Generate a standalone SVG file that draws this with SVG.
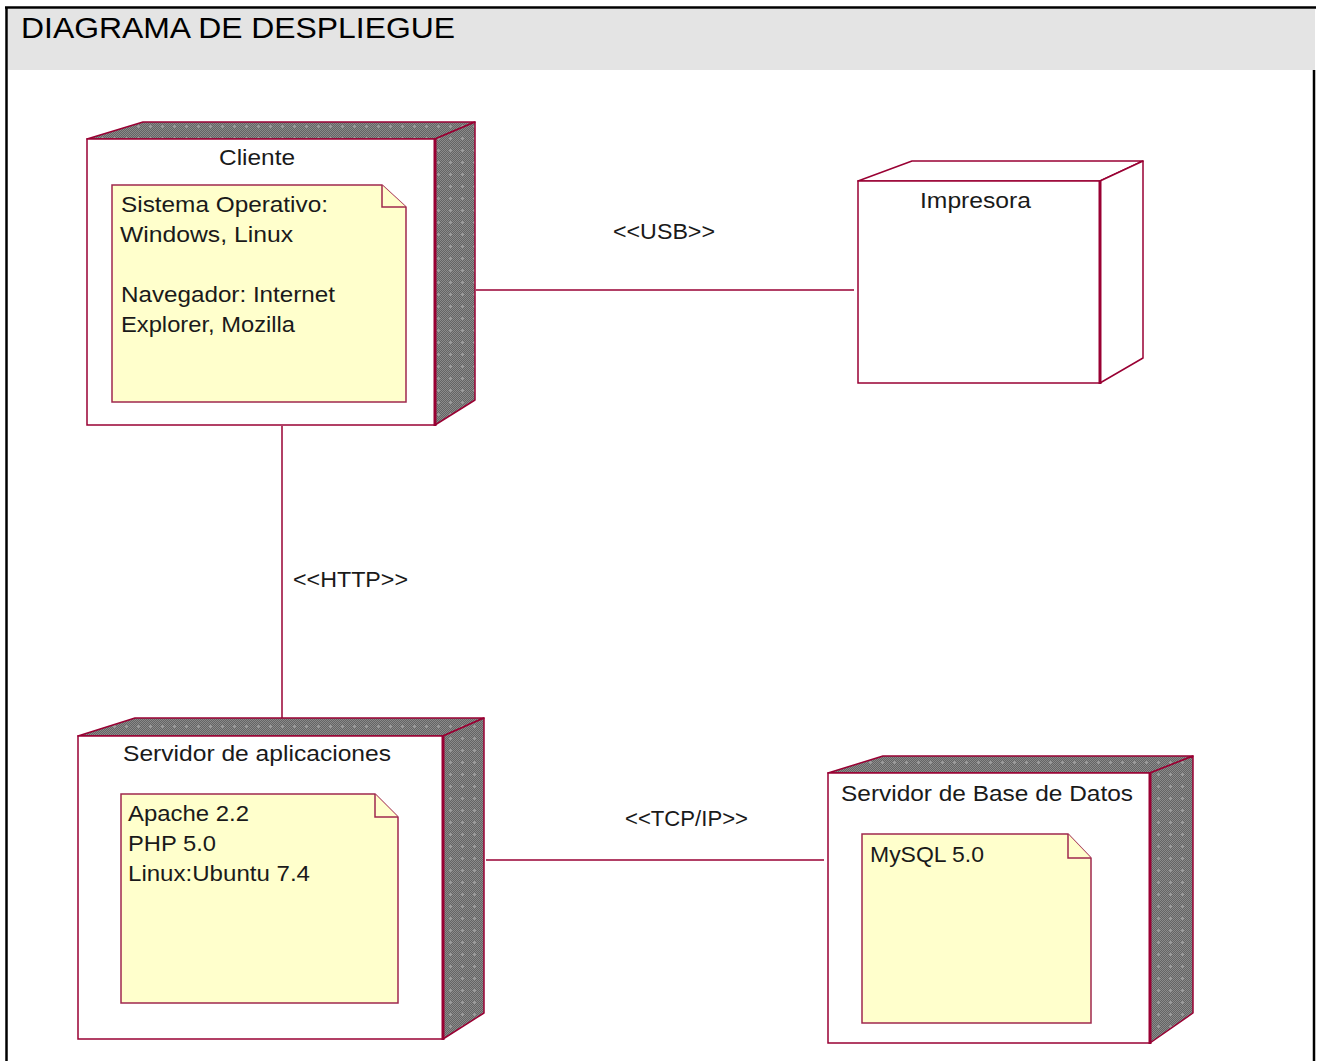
<svg xmlns="http://www.w3.org/2000/svg" width="1320" height="1061" viewBox="0 0 1320 1061">
  <style>
    .frame { stroke: #000; stroke-width: 2.5; fill: none; }
    .front { fill: #ffffff; stroke: #990033; stroke-width: 1.5; }
    .thick { stroke: #990033; stroke-width: 3; }
    .shade { fill: url(#dots); stroke: #990033; stroke-width: 1.5; stroke-linejoin: round; }
    .plain { fill: #ffffff; stroke: #990033; stroke-width: 1.5; stroke-linejoin: round; }
    .note { fill: #ffffcc; stroke: #a0294d; stroke-width: 1.5; }
    .conn { stroke: #990033; stroke-width: 1.5; fill: none; }
    text { font-family: "Liberation Sans", Arial, sans-serif; fill: #1a1a1a; }
    .lbl { font-size: 22px; }
    .title { font-size: 29px; fill: #000; }
  </style>
  <defs>
    <!-- fine 1px checker used inside the stippled shading -->
    <pattern id="chk" width="2" height="2" patternUnits="userSpaceOnUse">
      <rect width="2" height="2" fill="#646464"/>
      <rect width="1" height="1" fill="#8a8a8a"/>
      <rect x="1" y="1" width="1" height="1" fill="#8a8a8a"/>
    </pattern>
    <!-- stippled shading for the dark faces of shaded nodes -->
    <pattern id="dots" width="12" height="12" patternUnits="userSpaceOnUse">
      <rect width="12" height="12" fill="url(#chk)"/>
      <rect x="5" y="6" width="3" height="1" fill="#9c9c9c"/>
      <rect x="6" y="5" width="1" height="3" fill="#9c9c9c"/>
    </pattern>
  </defs>

  <!-- page frame with header band -->
  <g id="frame">
    <rect x="8" y="9" width="1307" height="61" fill="#e4e4e4"/>
    <line class="frame" x1="5" y1="7.5" x2="1316" y2="7.5"/>
    <line class="frame" x1="6.5" y1="7" x2="6.5" y2="1061"/>
    <line class="frame" x1="1314" y1="70" x2="1314" y2="1061"/>
    <text class="title" x="21" y="38" textLength="434" lengthAdjust="spacingAndGlyphs">DIAGRAMA DE DESPLIEGUE</text>
  </g>

  <!-- connectors -->
  <g id="connectors">
    <line class="conn" x1="476" y1="290" x2="854" y2="290"/>
    <line class="conn" x1="282" y1="426" x2="282" y2="724"/>
    <line class="conn" x1="486" y1="860" x2="824" y2="860"/>
    <text class="lbl" x="613" y="239" textLength="102" lengthAdjust="spacingAndGlyphs">&lt;&lt;USB&gt;&gt;</text>
    <text class="lbl" x="293" y="587" textLength="115" lengthAdjust="spacingAndGlyphs">&lt;&lt;HTTP&gt;&gt;</text>
    <text class="lbl" x="625" y="826" textLength="123" lengthAdjust="spacingAndGlyphs">&lt;&lt;TCP/IP&gt;&gt;</text>
  </g>

  <!-- node: Cliente -->
  <g id="node-cliente">
    <polygon class="shade" points="87,139 143,122 475,122 435,139"/>
    <polygon class="shade" points="435,139 475,122 475,400 435,425"/>
    <rect class="front" x="87" y="139" width="348" height="286"/>
    <line class="thick" x1="435" y1="139" x2="435" y2="426"/>
    <text class="lbl" x="219" y="165" textLength="76" lengthAdjust="spacingAndGlyphs">Cliente</text>
    <g id="note-cliente">
      <path class="note" d="M112,185 H382 L406,207 V402 H112 Z"/>
      <path class="note" d="M382,185 V207 H406"/>
      <text class="lbl" x="121" y="211.5" textLength="207" lengthAdjust="spacingAndGlyphs">Sistema Operativo:</text>
      <text class="lbl" x="120" y="241.5" textLength="173" lengthAdjust="spacingAndGlyphs">Windows, Linux</text>
      <text class="lbl" x="121" y="301.5" textLength="214" lengthAdjust="spacingAndGlyphs">Navegador: Internet</text>
      <text class="lbl" x="121" y="331.5" textLength="174" lengthAdjust="spacingAndGlyphs">Explorer, Mozilla</text>
    </g>
  </g>

  <!-- node: Impresora (device, unshaded) -->
  <g id="node-impresora">
    <polygon class="plain" points="858,181 912,161 1143,161 1100,181"/>
    <polygon class="plain" points="1100,181 1143,161 1143,358 1100,383"/>
    <rect class="front" x="858" y="181" width="242" height="202"/>
    <line class="thick" x1="1100" y1="181" x2="1100" y2="384"/>
    <text class="lbl" x="920" y="208" textLength="111" lengthAdjust="spacingAndGlyphs">Impresora</text>
  </g>

  <!-- node: Servidor de aplicaciones -->
  <g id="node-servidor-aplicaciones">
    <polygon class="shade" points="78,736 135,718 484,718 443,736"/>
    <polygon class="shade" points="443,736 484,718 484,1013 443,1039"/>
    <rect class="front" x="78" y="736" width="365" height="303"/>
    <line class="thick" x1="443" y1="736" x2="443" y2="1040"/>
    <text class="lbl" x="123" y="761" textLength="268" lengthAdjust="spacingAndGlyphs">Servidor de aplicaciones</text>
    <g id="note-servidor-aplicaciones">
      <path class="note" d="M121,794 H375 L398,817 V1003 H121 Z"/>
      <path class="note" d="M375,794 V817 H398"/>
      <text class="lbl" x="128" y="821" textLength="121" lengthAdjust="spacingAndGlyphs">Apache 2.2</text>
      <text class="lbl" x="128" y="851" textLength="88" lengthAdjust="spacingAndGlyphs">PHP 5.0</text>
      <text class="lbl" x="128" y="881" textLength="182" lengthAdjust="spacingAndGlyphs">Linux:Ubuntu 7.4</text>
    </g>
  </g>

  <!-- node: Servidor de Base de Datos -->
  <g id="node-servidor-bd">
    <polygon class="shade" points="828,773 883,756 1193,756 1150,773"/>
    <polygon class="shade" points="1150,773 1193,756 1193,1013 1150,1043"/>
    <rect class="front" x="828" y="773" width="322" height="270"/>
    <line class="thick" x1="1150" y1="773" x2="1150" y2="1044"/>
    <text class="lbl" x="841" y="801" textLength="292" lengthAdjust="spacingAndGlyphs">Servidor de Base de Datos</text>
    <g id="note-servidor-bd">
      <path class="note" d="M862,834 H1068 L1091,858 V1023 H862 Z"/>
      <path class="note" d="M1068,834 V858 H1091"/>
      <text class="lbl" x="870" y="861.5" textLength="114" lengthAdjust="spacingAndGlyphs">MySQL 5.0</text>
    </g>
  </g>
</svg>
